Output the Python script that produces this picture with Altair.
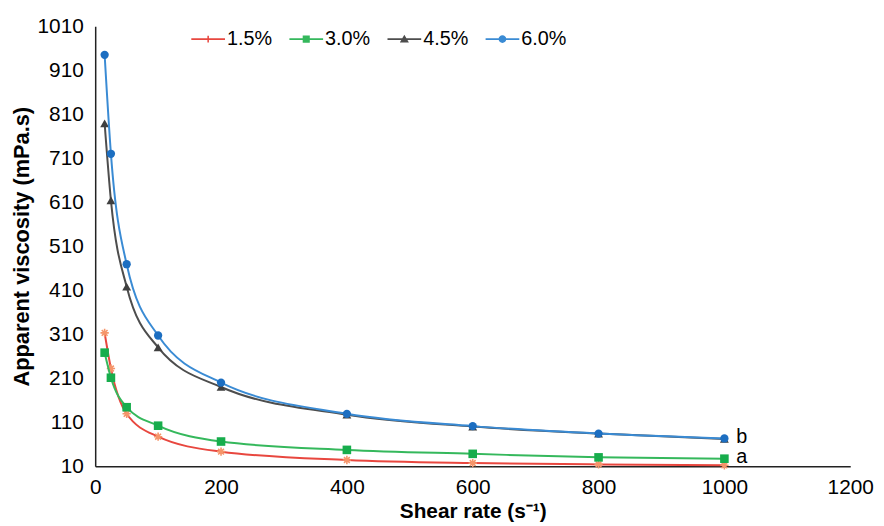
import altair as alt
import pandas as pd

# ---- data ----
shear_rate = [15, 25, 50, 100, 200, 400, 600, 800, 1000]
visc_15 = [313, 232, 129, 77, 43, 24, 17, 14, 12]
visc_30 = [268, 211, 144, 102, 66, 47, 38, 30, 27]
visc_45 = [789, 614, 418, 280, 190, 127, 100, 84, 72]
visc_60 = [945, 720, 469, 307, 200, 129, 101, 84, 73]
series_names = ["1.5%", "3.0%", "4.5%", "6.0%"]

ann_text = ["b", "a"]
ann_x = [1000, 1000]
ann_y = [76, 30]

y_ticks = [10, 110, 210, 310, 410, 510, 610, 710, 810, 910, 1010]
x_ticks = [0, 200, 400, 600, 800, 1000, 1200]

# ---- styling ----
FONT = "Liberation Sans"
line_colors = ["#E8473F", "#35B85C", "#4D4D4D", "#3A8BD4"]
marker_colors = ["#F5956A", "#17AD4C", "#3F3F3F", "#1C6EC1"]
asterisk = "M-1,0H1M0,-1V1M-0.7,-0.7L0.7,0.7M-0.7,0.7L0.7,-0.7"
marker_shapes = [asterisk, "square", "triangle-up", "circle"]
marker_sizes = [70, 75, 80, 70]
marker_filled = [False, True, True, True]

# legend symbols: line + marker (paths in [-1,1] box)
bar = "M-1,-0.055H1V0.055H-1Z"
leg_paths = [
    bar + "M-0.045,-0.2H0.045V0.2H-0.045Z",
    bar + "M-0.21,-0.21H0.21V0.21H-0.21Z",
    bar + "M0,-0.26L0.27,0.2L-0.27,0.2Z",
    bar + "M-0.23,0A0.23,0.23 0 1,1 0.23,0A0.23,0.23 0 1,1 -0.23,0Z",
]

all_vals = [visc_15, visc_30, visc_45, visc_60]

x_scale = alt.Scale(domain=[0, 1200], nice=False)
y_scale = alt.Scale(domain=[10, 1010], nice=False)

x_axis = alt.Axis(
    values=x_ticks, format="d", title="Shear rate (s⁻¹)", grid=False, ticks=False,
    labelFontSize=21, labelFont=FONT, labelColor="black", labelPadding=11,
    titleFontSize=21, titleFont=FONT, titleFontWeight="bold", titleColor="black",
    titlePadding=3, domainColor="#222222", domainWidth=1.5, labelFlush=False,
)
y_axis = alt.Axis(
    values=y_ticks, format="d", title="Apparent viscosity (mPa.s)", grid=False, ticks=False,
    labelFontSize=21, labelFont=FONT, labelColor="black", labelPadding=12,
    titleFontSize=22, titleFont=FONT, titleFontWeight="bold", titleColor="black",
    titlePadding=4, domainColor="#222222", domainWidth=1.5, labelFlush=False,
)

enc_x = alt.X("x:Q", scale=x_scale, axis=x_axis)
enc_y = alt.Y("y:Q", scale=y_scale, axis=y_axis)

layers = []
for i, name in enumerate(series_names):
    df = pd.DataFrame({"x": shear_rate, "y": all_vals[i], "series": name})
    base = alt.Chart(df)
    line = base.mark_line(
        interpolate="monotone", color=line_colors[i], strokeWidth=2
    ).encode(x=enc_x, y=enc_y)
    pt_kwargs = dict(
        shape=marker_shapes[i], size=marker_sizes[i], filled=marker_filled[i],
        opacity=1,
    )
    if marker_filled[i]:
        pt_kwargs["color"] = marker_colors[i]
    else:
        pt_kwargs["stroke"] = marker_colors[i]
        pt_kwargs["strokeWidth"] = 1.6
    pts = base.mark_point(**pt_kwargs).encode(x=enc_x, y=enc_y)
    layers += [line, pts]

ann_df = pd.DataFrame({"x": ann_x, "y": ann_y, "t": ann_text})
ann = alt.Chart(ann_df).mark_text(
    align="left", baseline="middle", dx=12, fontSize=20, font=FONT, color="black"
).encode(x=enc_x, y=enc_y, text="t:N")
layers.append(ann)

leg_kwargs = dict(
    title=None, orient="none", legendX=97, legendY=-4, direction="horizontal",
    symbolSize=1156, symbolOpacity=1, symbolStrokeWidth=0,
    labelFontSize=20, labelFont=FONT, labelColor="black", labelOffset=2,
    columnPadding=17, padding=0,
)
leg_df = pd.DataFrame({"series": series_names})
legend_layer = alt.Chart(leg_df).mark_point(filled=True, opacity=0).encode(
    x=alt.value(0),
    y=alt.value(0),
    color=alt.Color(
        "series:N",
        scale=alt.Scale(domain=series_names, range=line_colors),
        legend=alt.Legend(**leg_kwargs),
    ),
    shape=alt.Shape(
        "series:N",
        scale=alt.Scale(domain=series_names, range=leg_paths),
        legend=alt.Legend(**leg_kwargs),
    ),
)
layers.append(legend_layer)

chart = alt.layer(*layers).properties(
    width=762, height=444,
    autosize=alt.AutoSizeParams(type="none"),
    padding={"left": 88, "top": 16, "right": 26, "bottom": 58},
    background="white",
).configure_view(stroke=None)

chart.save("out.html", embed_options={"renderer": "svg", "actions": False})
